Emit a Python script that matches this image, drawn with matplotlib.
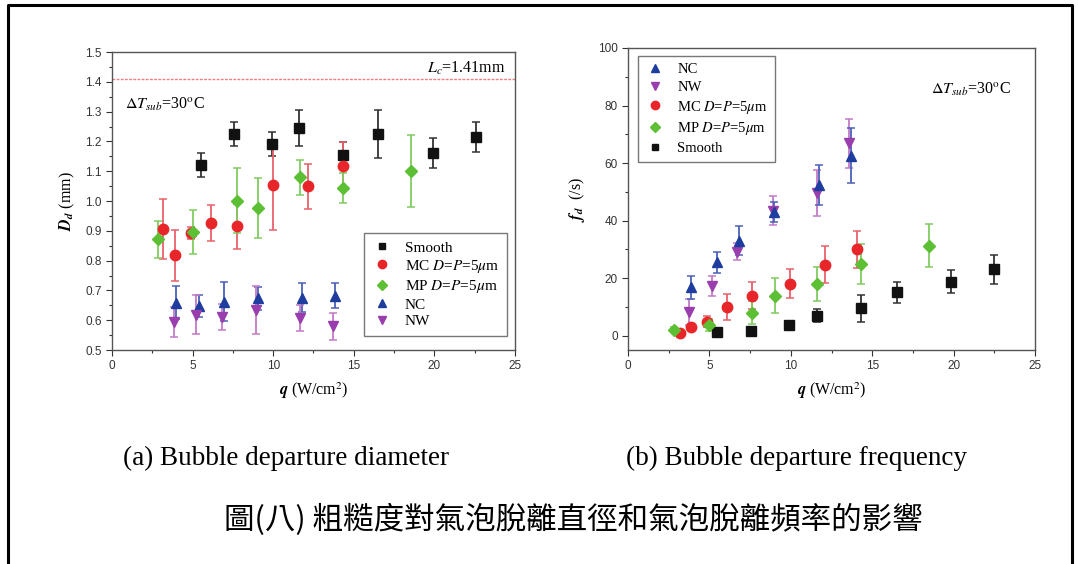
import matplotlib
matplotlib.use("Agg")
import matplotlib.pyplot as plt
from matplotlib.ticker import MultipleLocator
from matplotlib.lines import Line2D

plt.rcParams["mathtext.fontset"] = "stix"
plt.rcParams["font.family"] = ["Liberation Serif", "DejaVu Serif"]

# ---- (a) bubble departure diameter D_d (mm) vs q (W/cm^2)
smooth_q = [5.52, 7.58, 9.92, 11.61, 14.36, 16.53, 19.94, 22.56]
smooth_d = [1.122, 1.224, 1.191, 1.244, 1.154, 1.224, 1.161, 1.214]
smooth_de = [0.04, 0.04, 0.04, 0.06, 0.045, 0.08, 0.05, 0.05]

mc_q = [3.18, 3.91, 4.90, 6.12, 7.73, 10.0, 12.14, 14.36]
mc_d = [0.906, 0.818, 0.892, 0.927, 0.915, 1.054, 1.049, 1.117]
mc_de = [0.10, 0.085, 0.02, 0.06, 0.075, 0.15, 0.075, 0.08]

mp_q = [2.83, 5.05, 7.73, 9.04, 11.66, 14.35, 18.53]
mp_d = [0.871, 0.896, 1.001, 0.976, 1.079, 1.043, 1.10]
mp_de = [0.063, 0.074, 0.11, 0.10, 0.06, 0.05, 0.12]

nc_q = [3.95, 5.42, 6.95, 9.08, 11.77, 13.83]
nc_d = [0.659, 0.648, 0.662, 0.673, 0.676, 0.682]
nc_de = [0.055, 0.037, 0.065, 0.04, 0.05, 0.042]

nw_q = [3.87, 5.19, 6.84, 8.91, 11.66, 13.69]
nw_d = [0.593, 0.618, 0.61, 0.634, 0.607, 0.579]
nw_de = [0.05, 0.065, 0.043, 0.08, 0.043, 0.045]

LC = 1.41

# ---- (b) bubble departure frequency f_d (1/s) vs q
smooth_fq = [5.47, 7.58, 9.88, 11.58, 14.28, 16.5, 19.84, 22.5]
smooth_f = [1.4, 1.6, 3.7, 7.0, 9.5, 15.0, 18.7, 23.0]
smooth_fe = [0.8, 0.8, 1.0, 2.3, 4.6, 3.7, 4.0, 5.1]

mc_fq = [3.18, 3.89, 4.88, 6.05, 7.64, 9.94, 12.09, 14.08]
mc_f = [0.9, 3.0, 4.9, 9.9, 13.9, 18.1, 24.7, 30.0]
mc_fe = [0.6, 1.0, 2.0, 4.5, 4.6, 5.0, 6.5, 6.5]

mp_fq = [2.81, 5.0, 7.64, 9.02, 11.62, 14.28, 18.48]
mp_f = [2.1, 3.7, 7.9, 13.9, 18.0, 24.9, 31.3]
mp_fe = [0.8, 2.0, 4.0, 6.0, 6.0, 7.0, 7.5]

nc_fq = [3.85, 5.45, 6.82, 8.97, 11.73, 13.68]
nc_f = [16.8, 25.5, 33.0, 43.0, 52.4, 62.6]
nc_fe = [4.0, 3.6, 5.0, 3.4, 7.0, 9.7]

nw_fq = [3.77, 5.18, 6.71, 8.89, 11.63, 13.57]
nw_f = [8.2, 17.4, 29.2, 43.5, 49.7, 66.8]
nw_fe = [4.6, 3.5, 3.0, 5.0, 8.0, 8.5]

MC_LABEL = r"MC $D$=$P$=5$\mu$m"
MP_LABEL = r"MP $D$=$P$=5$\mu$m"
DT_LABEL = r"$\Delta T_{sub}$=30$^{\rm o}$C"

# series style: marker, face colour, error-bar colour
STY = {
    "smooth": ("s", "#111111", "#333333"),
    "mc": ("o", "#e8262a", "#e8606a"),
    "mp": ("D", "#5cbf34", "#80cc60"),
    "nc": ("^", "#1f3d9e", "#4a62b8"),
    "nw": ("v", "#9a3eae", "#c47ac8"),
}
MS = {"s": 6.5, "o": 7.5, "D": 6.5, "^": 7.5, "v": 7.5}
TICKFONT = ["Liberation Sans", "DejaVu Sans"]


def series(ax, key, x, y, e):
    m, fc, ec = STY[key]
    ax.errorbar(x, y, yerr=e, fmt=m, ms=MS[m], mfc=fc, mec=fc, ecolor=ec,
                elinewidth=1.3, capsize=3, capthick=1.1, zorder=3)


def proxy(key, label):
    m, fc, _ = STY[key]
    return Line2D([], [], ls="none", marker=m, ms=MS[m] - 1.5, mfc=fc, mec=fc, label=label)


def style_axis(ax):
    ax.tick_params(which="both", direction="out", top=False, right=False,
                   labelsize=8.5, colors="#333333", labelcolor="#333333")
    ax.tick_params(which="major", length=4, width=0.8)
    ax.tick_params(which="minor", length=2.5, width=0.8)
    for lab in ax.get_xticklabels() + ax.get_yticklabels():
        lab.set_family(TICKFONT)
    for s in ax.spines.values():
        s.set_color("#555555")
        s.set_linewidth(1.0)


fig = plt.figure(figsize=(10.78, 5.64), dpi=100)

# outer frame
fig.add_artist(Line2D([0.0074, 0.0074, 0.9944, 0.9944], [0.0, 0.991, 0.991, 0.0],
                      transform=fig.transFigure, color="black", lw=2.2))

# ---------- (a)
ax1 = fig.add_axes([0.1039, 0.3794, 0.3738, 0.5284])
ax1.axhline(LC, color="#f07c84", ls=(0, (2, 1)), lw=1.0, zorder=1)
series(ax1, "smooth", smooth_q, smooth_d, smooth_de)
series(ax1, "mc", mc_q, mc_d, mc_de)
series(ax1, "mp", mp_q, mp_d, mp_de)
series(ax1, "nc", nc_q, nc_d, nc_de)
series(ax1, "nw", nw_q, nw_d, nw_de)
ax1.set_xlim(0, 25)
ax1.set_ylim(0.5, 1.5)
ax1.xaxis.set_major_locator(MultipleLocator(5))
ax1.xaxis.set_minor_locator(MultipleLocator(2.5))
ax1.yaxis.set_major_locator(MultipleLocator(0.1))
ax1.yaxis.set_minor_locator(MultipleLocator(0.05))
style_axis(ax1)
ax1.set_xlabel(r"$\boldsymbol{q}$ (W/cm$^2$)", fontsize=11.5, labelpad=6)
ax1.set_ylabel(r"$\boldsymbol{D}_{\boldsymbol{d}}$ (mm)", fontsize=11.5, labelpad=6)
ax1.text(24.4, 1.445, r"$L_c$=1.41mm", fontsize=11.5, ha="right", va="center")
ax1.text(0.8, 1.323, DT_LABEL, fontsize=11.5, ha="left", va="center")
ax1.legend(handles=[proxy("smooth", "Smooth"), proxy("mc", MC_LABEL), proxy("mp", MP_LABEL),
                    proxy("nc", "NC"), proxy("nw", "NW")],
           loc="lower right", bbox_to_anchor=(0.98, 0.047), borderaxespad=0,
           fontsize=11, frameon=True, fancybox=False, edgecolor="#777777", framealpha=1,
           handletextpad=0.8, labelspacing=0.2, borderpad=0.5, handlelength=1.4)

# ---------- (b)
ax2 = fig.add_axes([0.5826, 0.3794, 0.3776, 0.5355])
series(ax2, "smooth", smooth_fq, smooth_f, smooth_fe)
series(ax2, "mc", mc_fq, mc_f, mc_fe)
series(ax2, "mp", mp_fq, mp_f, mp_fe)
series(ax2, "nw", nw_fq, nw_f, nw_fe)
series(ax2, "nc", nc_fq, nc_f, nc_fe)
ax2.set_xlim(0, 25)
ax2.set_ylim(-5, 100)
ax2.xaxis.set_major_locator(MultipleLocator(5))
ax2.xaxis.set_minor_locator(MultipleLocator(2.5))
ax2.yaxis.set_major_locator(MultipleLocator(20))
ax2.yaxis.set_minor_locator(MultipleLocator(10))
style_axis(ax2)
ax2.set_xlabel(r"$\boldsymbol{q}$ (W/cm$^2$)", fontsize=11.5, labelpad=6)
ax2.set_ylabel(r"$\boldsymbol{f}_{\boldsymbol{d}}$  (/s)", fontsize=11.5, labelpad=8)
ax2.text(18.6, 85.5, DT_LABEL, fontsize=11.5, ha="left", va="center")
ax2.legend(handles=[proxy("nc", "NC"), proxy("nw", "NW"), proxy("mc", MC_LABEL),
                    proxy("mp", MP_LABEL), proxy("smooth", "Smooth")],
           loc="upper left", bbox_to_anchor=(0.024, 0.975), borderaxespad=0,
           fontsize=10.5, frameon=True, fancybox=False, edgecolor="#777777", framealpha=1,
           handletextpad=0.8, labelspacing=0.32, borderpad=0.5, handlelength=1.4)

# captions
fig.text(0.265, 0.188, "(a) Bubble departure diameter", fontsize=19.5, ha="center", va="center")
fig.text(0.739, 0.188, "(b) Bubble departure frequency", fontsize=19.5, ha="center", va="center")
fig.text(0.532, 0.078, "圖(八) 粗糙度對氣泡脫離直徑和氣泡脫離頻率的影響", fontsize=22,
         ha="center", va="center", family=["Noto Sans CJK TC", "DejaVu Sans"])

fig.savefig("out.png", dpi=100)
